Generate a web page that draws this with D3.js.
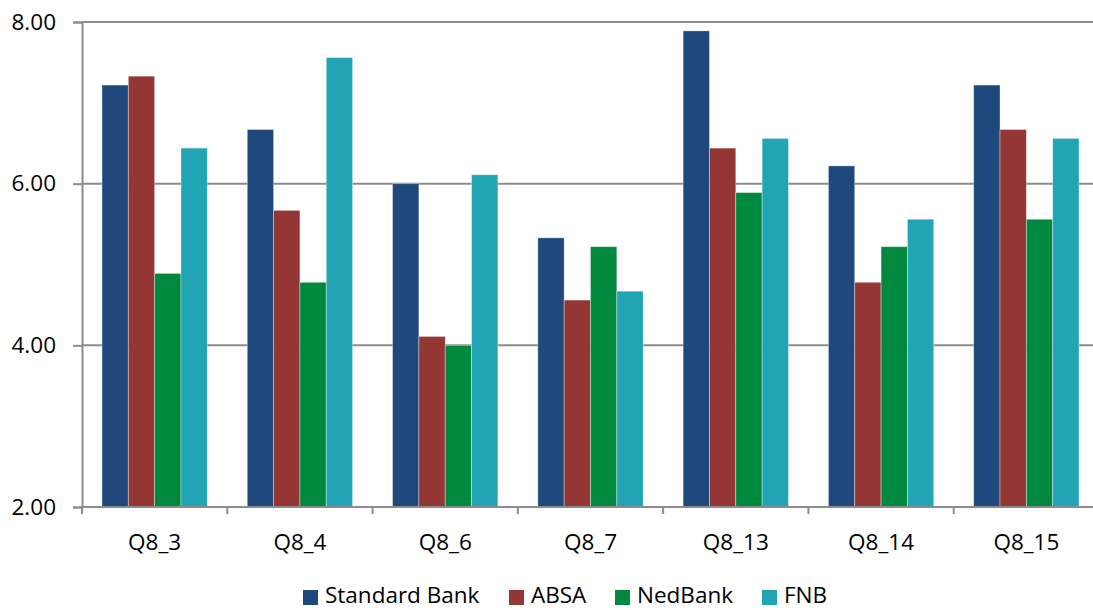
<!DOCTYPE html>
<html>
<head>
<meta charset="utf-8">
<script src="https://cdn.jsdelivr.net/npm/d3@7"></script>
<style>
  html, body { margin: 0; padding: 0; background: #fff; }
  svg { display: block; font-family: "Open Sans", "DejaVu Sans", sans-serif; }
</style>
</head>
<body>
<svg id="chart" width="1093" height="610"></svg>
<script>
// Question categories along the x axis
const categories = ["Q8_3", "Q8_4", "Q8_6", "Q8_7", "Q8_13", "Q8_14", "Q8_15"];

// Bank series (mean ratings)
const seriesNames = ["Standard Bank", "ABSA", "NedBank", "FNB"];
const standardBank = [7.22, 6.67, 6.00, 5.33, 7.89, 6.22, 7.22];
const absa         = [7.33, 5.67, 4.11, 4.56, 6.44, 4.78, 6.67];
const nedBank      = [4.89, 4.78, 4.00, 5.22, 5.89, 5.22, 5.56];
const fnb          = [6.44, 7.56, 6.11, 4.67, 6.56, 5.56, 6.56];
const seriesColors = ["#1f497d", "#943634", "#00893e", "#21a5b5"];

// Y axis ticks
const yTicks = [2, 4, 6, 8];
const yTickLabels = ["2.00", "4.00", "6.00", "8.00"];

const seriesValues = [standardBank, absa, nedBank, fnb];

const svg = d3.select("#chart");
const axisColor = "#8c8c8c";
const fontSize = "22.5px";

const x = d3.scaleBand()
  .domain(categories)
  .range([82, 1099])
  .paddingInner(0.275)
  .paddingOuter(0.1375);

const xInner = d3.scaleBand()
  .domain(seriesNames)
  .range([0, x.bandwidth()])
  .padding(0);

const y = d3.scaleLinear().domain([2, 8]).range([507, 22]);

// Horizontal gridlines
svg.append("g")
  .selectAll("line")
  .data(yTicks.filter(t => t > 2))
  .join("line")
  .attr("x1", 82).attr("x2", 1093)
  .attr("y1", d => y(d)).attr("y2", d => y(d))
  .attr("stroke", axisColor)
  .attr("stroke-width", 2);

// Bars
const groups = svg.append("g")
  .selectAll("g")
  .data(categories)
  .join("g")
  .attr("transform", d => `translate(${x(d)},0)`);

groups.selectAll("rect")
  .data((c, i) => seriesNames.map((s, k) => ({ s, k, v: seriesValues[k][i] })))
  .join("rect")
  .attr("x", d => xInner(d.s))
  .attr("width", xInner.bandwidth())
  .attr("y", d => y(d.v))
  .attr("height", d => y(2) - y(d.v))
  .attr("fill", d => seriesColors[d.k])
  .attr("stroke", "rgba(255,255,255,0.45)")
  .attr("stroke-width", 0.8);

// Y axis
const yAxis = d3.axisLeft(y)
  .tickValues(yTicks)
  .tickSize(9)
  .tickPadding(17)
  .tickFormat((d, i) => yTickLabels[i]);

const gy = svg.append("g")
  .attr("transform", "translate(82,0)")
  .call(yAxis);
gy.select(".domain").attr("stroke", axisColor).attr("stroke-width", 2);
gy.selectAll(".tick line").attr("stroke", axisColor).attr("stroke-width", 2);
gy.selectAll(".tick text")
  .attr("fill", "#000")
  .style("font-size", fontSize)
  .style("font-family", "'Open Sans', sans-serif");

// X axis baseline
svg.append("line")
  .attr("x1", 81).attr("x2", 1093)
  .attr("y1", y(2)).attr("y2", y(2))
  .attr("stroke", axisColor)
  .attr("stroke-width", 2);

// Tick marks between categories
const boundaries = categories.map(c => x(c) - x.step() * x.paddingInner() / 2);
svg.append("g")
  .selectAll("line")
  .data(boundaries)
  .join("line")
  .attr("x1", d => d).attr("x2", d => d)
  .attr("y1", y(2)).attr("y2", y(2) + 7)
  .attr("stroke", axisColor)
  .attr("stroke-width", 2);

// Category labels
svg.append("g")
  .selectAll("text")
  .data(categories)
  .join("text")
  .attr("x", d => x(d) + x.bandwidth() / 2)
  .attr("y", 550)
  .attr("text-anchor", "middle")
  .style("font-size", fontSize)
  .attr("fill", "#000")
  .text(d => d);

// Legend
const legendX = [303, 509, 615, 762];
const legend = svg.append("g")
  .selectAll("g")
  .data(seriesNames)
  .join("g")
  .attr("transform", (d, i) => `translate(${legendX[i]},590)`);
legend.append("rect")
  .attr("width", 15).attr("height", 15)
  .attr("fill", (d, i) => seriesColors[i]);
legend.append("text")
  .attr("x", 22)
  .attr("y", 13)
  .style("font-size", fontSize)
  .attr("fill", "#000")
  .text(d => d);
</script>
</body>
</html>
